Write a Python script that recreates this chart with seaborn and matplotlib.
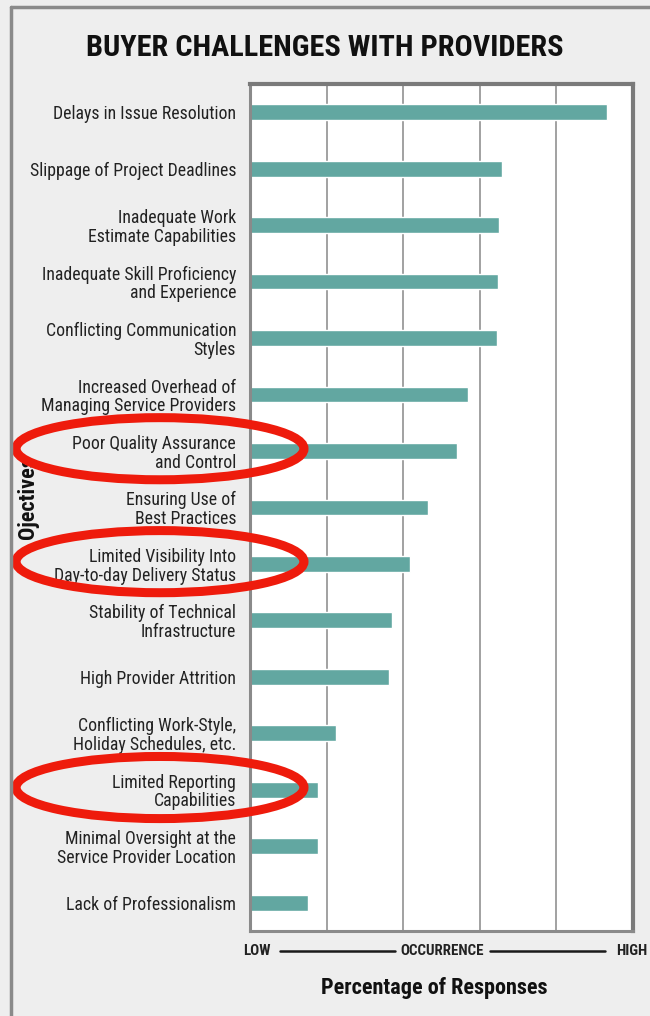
import numpy as np
import matplotlib.pyplot as plt
import seaborn as sns
from matplotlib.patches import Ellipse
from matplotlib.lines import Line2D
from matplotlib.transforms import blended_transform_factory

# Dati
challenges = [
    "Delays in Issue Resolution",
    "Slippage of Project Deadlines",
    "Inadequate Work\nEstimate Capabilities",
    "Inadequate Skill Proficiency\nand Experience",
    "Conflicting Communication\nStyles",
    "Increased Overhead of\nManaging Service Providers",
    "Poor Quality Assurance\nand Control",
    "Ensuring Use of\nBest Practices",
    "Limited Visibility Into\nDay-to-day Delivery Status",
    "Stability of Technical\nInfrastructure",
    "High Provider Attrition",
    "Conflicting Work-Style,\nHoliday Schedules, etc.",
    "Limited Reporting\nCapabilities",
    "Minimal Oversight at the\nService Provider Location",
    "Lack of Professionalism",
]
occurrence = [93.2, 65.8, 65.0, 64.8, 64.5, 56.9, 54.0, 46.5, 41.8, 37.1, 36.3, 22.5, 17.8, 17.8, 15.1]
circled = [
    "Poor Quality Assurance\nand Control",
    "Limited Visibility Into\nDay-to-day Delivery Status",
    "Limited Reporting\nCapabilities",
]
grid_ticks = [20, 40, 60, 80]

bar_color = "#62a7a1"
bg_color = "#eeeeee"
frame_color = "#7a7a7a"

sns.set_style("white")
plt.rcParams["font.family"] = ["Roboto Condensed", "DejaVu Sans"]

fig = plt.figure(figsize=(6.5, 10.16), dpi=100, facecolor=bg_color)
ax = fig.add_axes([0.3846, 0.0837, 0.5892, 0.8337])
ax.set_facecolor("white")

sns.barplot(x=occurrence, y=challenges, orient="h", color=bar_color,
            saturation=1, width=0.28, ax=ax)

# Assi e griglia
ax.set_xlim(0, 100)
ax.set_ylim(len(challenges) - 0.5, -0.5)
ax.set_xticks(grid_ticks)
ax.set_xticklabels([])
ax.tick_params(axis="x", length=0)
ax.grid(axis="x", color="#9a9a9a", linewidth=1.3)
ax.set_axisbelow(True)

ax.set_yticks(np.arange(-0.5, len(challenges), 1), minor=True)
ax.tick_params(axis="y", which="major", length=0, pad=10, labelsize=12.8,
               labelcolor="#222222")
ax.tick_params(axis="y", which="minor", length=6, width=2, color="#888888")
for lbl in ax.get_yticklabels():
    lbl.set_linespacing(1.05)

for side, sp in ax.spines.items():
    sp.set_visible(True)
    sp.set_color(frame_color if side in ("top", "right") else "#8a8a8a")
    sp.set_linewidth(3 if side in ("top", "right") else 2.2)

ax.set_xlabel("Percentage of Responses", fontsize=16, fontweight="bold",
              color="#111111")
ax.xaxis.set_label_coords(0.48, -0.054)
ax.set_ylabel("Ojectives", fontsize=16, fontweight="bold", color="#111111")
ax.yaxis.set_label_coords(-0.55, 0.512)

# Scala LOW — OCCURRENCE — HIGH
y_occ = 0.064
occ_style = dict(va="center", fontsize=10.8, fontweight="bold", color="#222222")
fig.text(243 / 650, y_occ, "LOW", ha="left", **occ_style)
fig.text(442 / 650, y_occ, "OCCURRENCE", ha="center", **occ_style)
fig.text(647 / 650, y_occ, "HIGH", ha="right", **occ_style)
for x0, x1 in [(280, 395), (490, 605)]:
    fig.add_artist(Line2D([x0 / 650, x1 / 650], [y_occ, y_occ],
                          transform=fig.transFigure, color="#1a1a1a", lw=1.8))

# Titolo
fig.text(0.5, 1 - 48 / 1016, "BUYER CHALLENGES WITH PROVIDERS", ha="center",
         va="center", fontsize=21.8, fontweight="bold", color="#111111")

# Cornice esterna
fig.add_artist(Line2D([11 / 650, 1], [1 - 7 / 1016, 1 - 7 / 1016],
                      transform=fig.transFigure, color="#8a8a8a", lw=2.5))
fig.add_artist(Line2D([11 / 650, 11 / 650], [0, 1 - 7 / 1016],
                      transform=fig.transFigure, color="#8a8a8a", lw=2.5))

# Ellissi rosse sulle voci evidenziate
trans = blended_transform_factory(ax.transAxes, ax.transData)
for name in circled:
    idx = challenges.index(name)
    ax.add_patch(Ellipse((-0.235, idx - 0.04), 0.752, 1.1, transform=trans,
                         fill=False, edgecolor="#ee1b0c", linewidth=6.5,
                         clip_on=False, zorder=10))

fig.savefig("out.png", dpi=100, facecolor=bg_color)
